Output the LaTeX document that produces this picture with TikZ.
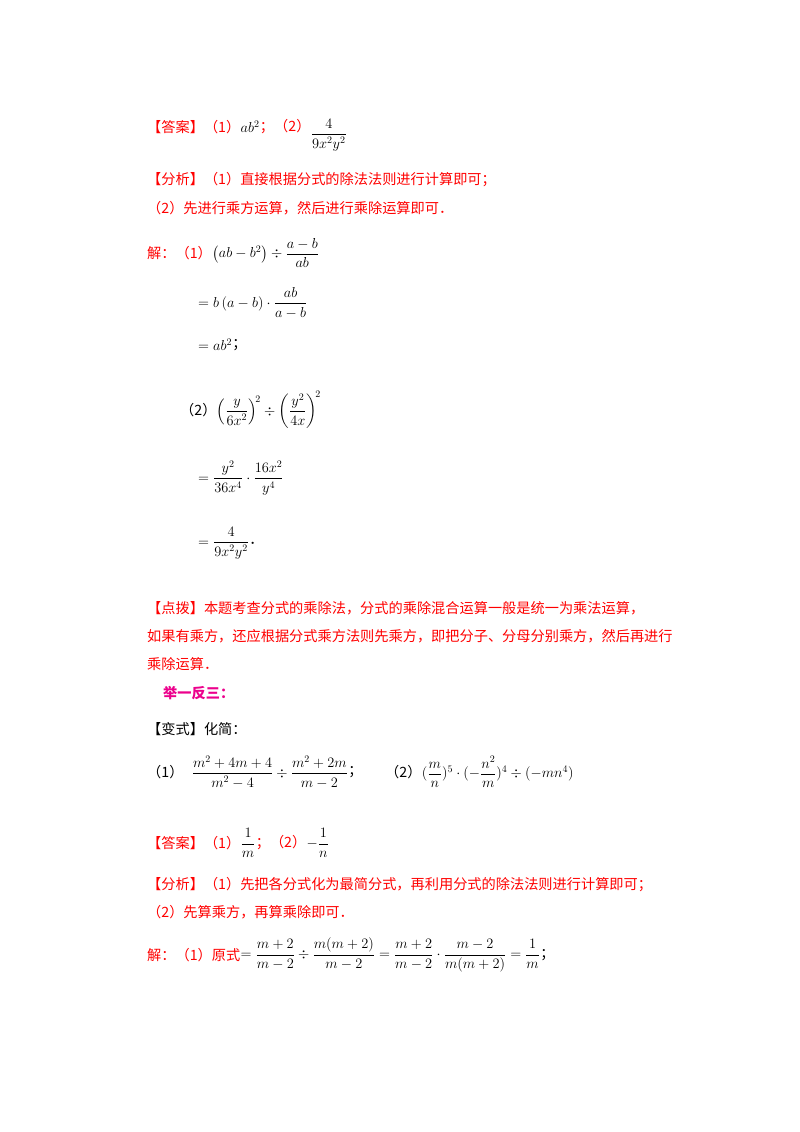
\documentclass[tikz,border=0pt]{standalone}
\usepackage{amsmath}
\usepackage{fontspec}
\setmainfont{Liberation Serif}
\newfontfamily\cjk{Noto Sans CJK SC}
\begin{document}
\begin{tikzpicture}[x=1pt,y=-1pt,
  t/.style={anchor=west,inner sep=0pt,font=\fontsize{14.2}{17}\selectfont\cjk},
  r/.style={t,text=red},
  m/.style={anchor=west,inner sep=0pt,font=\fontsize{14.5}{17}\selectfont}]
\useasboundingbox (0,0) rectangle (800,1132);
\fill[white] (0,0) rectangle (800,1132);
\node[r] (a1) at (147,127) {【答案】（1）};
\node[m] (a1m) at (a1.east) {$ab^2$};
\node[r] (a1s) at (a1m.east) {；（2）};
\node[m] (a1f) at ([yshift=-8pt]a1s.east) {$\dfrac{4}{9x^2y^2}$};
\node[r] (f1) at (147,180) {【分析】（1）直接根据分式的除法法则进行计算即可；};
\node[r] (f2) at (147,208) {（2）先进行乘方运算，然后进行乘除运算即可．};
\node[r] (s1) at (147,253) {解：（1）};
\node[m] (s1m) at (s1.east) {$\left(ab-b^2\right)\div\dfrac{a-b}{ab}$};
\node[m] (s2) at (198,303) {$=b\left(a-b\right)\cdot\dfrac{ab}{a-b}$};
\node[m] (s3) at (198,345) {$=ab^2$};
\node[t] (s3s) at (s3.east) {；};
\node[t] (s4) at (180,410) {（2）};
\node[m] (s4m) at (s4.east) {$\left(\dfrac{y}{6x^2}\right)^{\!2}\div\left(\dfrac{y^2}{4x}\right)^{\!2}$};
\node[m] (s5) at (198,478) {$=\dfrac{y^2}{36x^4}\cdot\dfrac{16x^2}{y^4}$};
\node[m] (s6) at (198,543) {$=\dfrac{4}{9x^2y^2}$};
\node[t] (s6s) at (s6.east) {．};
\node[r] (d1) at (147,608) {【点拨】本题考查分式的乘除法，分式的乘除混合运算一般是统一为乘法运算，};
\node[r] (d2) at (147,636) {如果有乘方，还应根据分式乘方法则先乘方，即把分子、分母分别乘方，然后再进行};
\node[r] (d3) at (147,664) {乘除运算．};
\node[t,text=magenta,font=\fontsize{14.2}{17}\selectfont\cjk\bfseries] (j) at (163,693) {举一反三：};
\node[t] (b1) at (147,729) {【变式】化简：};
\node[t] (b2) at (147,772) {（1）};
\node[m] (b2m) at ([xshift=8pt]b2.east) {$\dfrac{m^2+4m+4}{m^2-4}\div\dfrac{m^2+2m}{m-2}$};
\node[t] (b2s) at (b2m.east) {；};
\node[t] (b3) at (385,772) {（2）};
\node[m] (b3m) at (b3.east) {$(\dfrac{m}{n})^5\cdot(-\dfrac{n^2}{m})^4\div(-mn^4)$};
\node[r] (c1) at (147,843) {【答案】（1）};
\node[m] (c1m) at (c1.east) {$\dfrac{1}{m}$};
\node[r] (c1s) at (c1m.east) {；（2）};
\node[m] (c1f) at (c1s.east) {$-\dfrac{1}{n}$};
\node[r] (g1) at (147,885) {【分析】（1）先把各分式化为最简分式，再利用分式的除法法则进行计算即可；};
\node[r] (g2) at (147,912) {（2）先算乘方，再算乘除即可．};
\node[r] (h1) at (147,955) {解：（1）原式};
\node[m] (h1m) at (h1.east) {$=\dfrac{m+2}{m-2}\div\dfrac{m(m+2)}{m-2}=\dfrac{m+2}{m-2}\cdot\dfrac{m-2}{m(m+2)}=\dfrac{1}{m}$};
\node[t] (h1s) at (h1m.east) {；};
\end{tikzpicture}
\end{document}
